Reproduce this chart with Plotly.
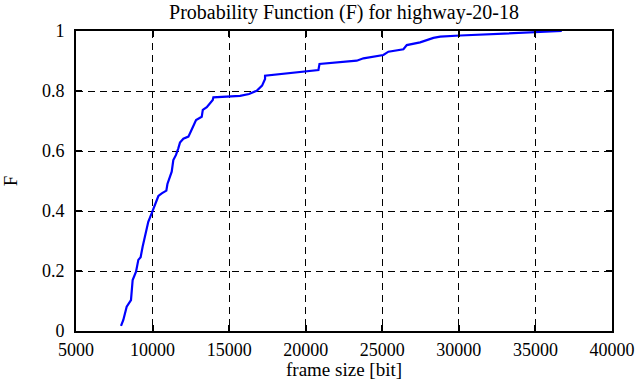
import plotly.graph_objects as go

frame_size = [7940, 8090, 8310, 8590, 8700, 8920, 9070, 9220, 9350, 9570, 9720, 9940,
              10225, 10380, 10600, 10900, 10970, 11140, 11250, 11355, 11530, 11680, 11790,
              12010, 12340, 12490, 12660, 12840, 13210, 13280, 13540, 13750, 13930, 13970,
              14840, 15710, 16300, 16800, 17150, 17300, 17345, 17345, 18540, 19960, 20830,
              20900, 21370, 23330, 23770, 25070, 25400, 26380, 26600, 27470, 28340, 28780,
              30080, 31600, 33560, 35090, 36720]
prob_F = [0.017, 0.037, 0.081, 0.103, 0.170, 0.198, 0.237, 0.246, 0.281, 0.326, 0.364, 0.392,
          0.431, 0.450, 0.459, 0.468, 0.490, 0.514, 0.531, 0.570, 0.587, 0.609, 0.628,
          0.641, 0.648, 0.664, 0.683, 0.703, 0.714, 0.737, 0.746, 0.757, 0.770, 0.779,
          0.781, 0.784, 0.790, 0.801, 0.818, 0.832, 0.840, 0.851, 0.857, 0.864, 0.870,
          0.890, 0.892, 0.901, 0.909, 0.920, 0.931, 0.939, 0.953, 0.962, 0.977, 0.981,
          0.985, 0.988, 0.994, 0.997, 1.000]

x_ticks = [5000, 10000, 15000, 20000, 25000, 30000, 35000, 40000]
y_ticks = [0, 0.2, 0.4, 0.6, 0.8, 1]
y_tick_text = ["0", "0.2", "0.4", "0.6", "0.8", "1"]

font = "Liberation Serif"

fig = go.Figure()
fig.add_trace(go.Scatter(x=frame_size, y=prob_F, mode="lines",
                         line=dict(color="#0000ff", width=2.2), showlegend=False))

axis_common = dict(showline=True, linecolor="black", linewidth=2, mirror="ticks",
                   ticks="inside", ticklen=6, tickwidth=1.5, tickcolor="black",
                   showgrid=True, gridcolor="black", gridwidth=1, griddash="7px,5px",
                   zeroline=False, automargin=False,
                   tickfont=dict(family=font, size=18, color="black"))

fig.update_xaxes(range=[5000, 40000], tickvals=x_ticks, ticktext=[str(v) for v in x_ticks],
                 ticklabelstandoff=1, **axis_common)
fig.update_yaxes(range=[0, 1], tickvals=y_ticks, ticktext=y_tick_text, ticklabelstandoff=6,
                 title=dict(text="F", font=dict(family=font, size=19, color="black"), standoff=20),
                 **axis_common)

fig.add_annotation(text="frame size [bit]", xref="paper", yref="paper",
                   x=0.5, y=-38 / 300, xanchor="center", yanchor="middle", showarrow=False,
                   font=dict(family=font, size=19, color="black"))

fig.update_layout(
    width=639, height=387,
    margin=dict(l=76, r=27, t=31, b=56, autoexpand=False),
    font=dict(family=font, size=19, color="black"),
    paper_bgcolor="white", plot_bgcolor="white",
    title=dict(text="Probability Function (F) for highway-20-18",
               font=dict(family=font, size=20, color="black"),
               x=(76 + 612) / 2 / 639, xanchor="center", xref="container",
               y=1 - 12 / 387, yanchor="middle", yref="container"),
)

fig.write_html("out.html", config={"displayModeBar": False},
               post_script="document.body.style.margin='0';")
